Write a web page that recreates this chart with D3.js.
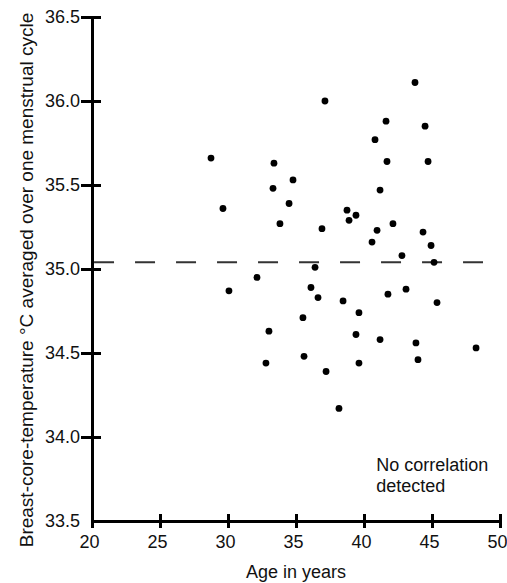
<!DOCTYPE html>
<html>
<head>
<meta charset="utf-8">
<script src="https://cdn.jsdelivr.net/npm/d3@7"></script>
<style>
  body { margin: 0; background: #fff; }
  svg text { font-family: "Liberation Sans", Arial, sans-serif; fill: #111; }
</style>
</head>
<body>
<div id="viz"></div>
<script>
(function () {
  'use strict';

  // ages (years)
  var ages = [
    28.75, 29.63, 30.07, 32.13, 32.79, 33.01, 33.38, 33.31, 34.78, 34.49,
    33.82, 35.51, 35.59, 36.10, 36.40, 36.62, 36.91, 37.13, 37.21, 38.16,
    38.46, 38.75, 38.90, 39.41, 39.63, 39.41, 39.63, 40.59, 40.96, 40.81,
    41.18, 41.18, 41.62, 41.69, 41.76, 42.13, 42.79, 43.09, 43.75, 43.82,
    43.97, 44.34, 44.49, 44.71, 44.93, 45.15, 45.37, 48.24
  ];
  // mean breast core temperature for each woman
  var temps = [
    35.66, 35.36, 34.87, 34.95, 34.44, 34.63, 35.63, 35.48, 35.53, 35.39,
    35.27, 34.71, 34.48, 34.89, 35.01, 34.83, 35.24, 36.00, 34.39, 34.17,
    34.81, 35.35, 35.29, 35.32, 34.74, 34.61, 34.44, 35.16, 35.23, 35.77,
    35.47, 34.58, 35.88, 35.64, 34.85, 35.27, 35.08, 34.88, 36.11, 34.56,
    34.46, 35.22, 35.85, 35.64, 35.14, 35.04, 34.80, 34.53
  ];
  var xTicks = [20, 25, 30, 35, 40, 45, 50];
  var yTicks = [33.5, 34.0, 34.5, 35.0, 35.5, 36.0, 36.5];
  // dashed reference line (age span, temperature)
  var refAges = [20.15, 48.75];
  var refTemp = 35.04;
  var note = ['No correlation', 'detected'];
  var noteAt = [40.9, 33.8];

  var width = 507, height = 583;

  var svg = d3.select('#viz')
    .append('svg')
    .attr('width', width)
    .attr('height', height);

  var x = d3.scaleLinear().domain([20, 50]).range([92, 500]);
  var y = d3.scaleLinear().domain([33.5, 36.5]).range([521, 17]);

  // x axis
  var gx = svg.append('g')
    .attr('transform', 'translate(0,' + y(33.5) + ')')
    .call(d3.axisBottom(x).tickValues(xTicks).tickSizeOuter(0).tickFormat(d3.format('d')));
  gx.attr('font-family', null).attr('font-size', 18);
  gx.select('.domain').attr('stroke', '#000').attr('stroke-width', 3).attr('stroke-linecap', 'square');
  gx.selectAll('.tick line').attr('y1', -7).attr('y2', 7).attr('stroke', '#000').attr('stroke-width', 3);
  gx.selectAll('.tick text').attr('x', -3).attr('y', 27).attr('dy', null);

  // y axis
  var gy = svg.append('g')
    .attr('transform', 'translate(' + x(20) + ',0)')
    .call(d3.axisLeft(y).tickValues(yTicks).tickSizeOuter(0).tickFormat(d3.format('.1f')));
  gy.attr('font-family', null).attr('font-size', 18);
  gy.select('.domain').attr('stroke', '#000').attr('stroke-width', 3).attr('stroke-linecap', 'square');
  gy.selectAll('.tick line').attr('x1', -11).attr('x2', 9).attr('stroke', '#000').attr('stroke-width', 3);
  gy.selectAll('.tick line').filter(function (d) { return d === 33.5; }).remove();
  gy.selectAll('.tick text').attr('x', -12);

  // reference line
  svg.append('line')
    .attr('x1', x(refAges[0]))
    .attr('x2', x(refAges[1]))
    .attr('y1', y(refTemp))
    .attr('y2', y(refTemp))
    .attr('stroke', '#333')
    .attr('stroke-width', 2)
    .attr('stroke-dasharray', '20,21');

  // points
  svg.append('g')
    .selectAll('circle')
    .data(ages)
    .enter()
    .append('circle')
    .attr('cx', function (d) { return x(d); })
    .attr('cy', function (d, i) { return y(temps[i]); })
    .attr('r', 3.4)
    .attr('fill', '#000');

  // note
  svg.append('text')
    .attr('x', x(noteAt[0]))
    .attr('y', y(noteAt[1]))
    .attr('font-size', 18)
    .selectAll('tspan')
    .data(note)
    .enter()
    .append('tspan')
    .attr('x', x(noteAt[0]))
    .attr('dy', function (d, i) { return i ? 21 : 0; })
    .text(function (d) { return d; });

  // axis titles
  svg.append('text')
    .attr('x', x(35))
    .attr('y', 578)
    .attr('text-anchor', 'middle')
    .attr('font-size', 18)
    .text('Age in years');

  svg.append('text')
    .attr('transform', 'translate(33,280) rotate(-90)')
    .attr('text-anchor', 'middle')
    .attr('font-size', 19)
    .text('Breast-core-temperature \u00B0C averaged over one menstrual cycle');
})();
</script>
</body>
</html>
